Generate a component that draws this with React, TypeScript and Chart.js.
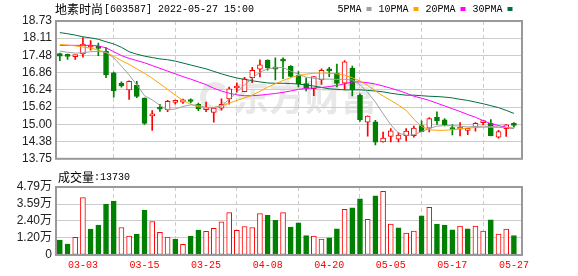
import React, { useEffect, useRef } from 'react';
import { Chart, registerables } from 'chart.js';

Chart.register(...registerables);

const stockName = '地素时尚';
const stockCode = '603587';
const stamp = '2022-05-27 15:00';
const volTitle = '成交量';
const lastVolumeText = '13730';
const watermark = '东方财富';

const dates = [
  '02-28', '03-01', '03-02', '03-03', '03-04', '03-07', '03-08', '03-09', '03-10', '03-11',
  '03-14', '03-15', '03-16', '03-17', '03-18', '03-21', '03-22', '03-23', '03-24', '03-25',
  '03-28', '03-29', '03-30', '03-31', '04-01', '04-06', '04-07', '04-08', '04-11', '04-12',
  '04-13', '04-14', '04-15', '04-18', '04-19', '04-20', '04-21', '04-22', '04-25', '04-26',
  '04-27', '04-28', '04-29', '05-05', '05-06', '05-09', '05-10', '05-11', '05-12', '05-13',
  '05-16', '05-17', '05-18', '05-19', '05-20', '05-23', '05-24', '05-25', '05-26', '05-27',
];

const opens = [
  17.55, 17.48, 17.44, 17.54, 17.79, 17.76, 17.63, 16.86, 16.49, 16.24,
  16.41, 15.94, 15.30, 15.56, 15.52, 15.79, 15.80, 15.84, 15.72, 15.53,
  15.43, 15.58, 15.91, 16.31, 16.18, 16.68, 16.99, 17.32, 17.01, 17.30,
  17.09, 16.77, 16.47, 16.28, 16.60, 16.97, 16.85, 16.48, 17.03, 16.04,
  15.07, 15.09, 14.36, 14.56, 14.46, 14.59, 14.59, 14.95, 14.86, 15.25,
  15.16, 14.83, 14.82, 14.78, 14.89, 15.06, 15.03, 14.53, 14.84, 14.99,
];
const highs = [
  17.57, 17.53, 17.50, 18.13, 18.02, 17.93, 17.77, 16.88, 16.53, 16.57,
  16.55, 15.95, 15.49, 15.72, 15.86, 15.87, 15.91, 15.92, 15.76, 15.80,
  15.60, 15.92, 16.34, 16.50, 16.69, 17.06, 17.33, 17.33, 17.40, 17.40,
  17.12, 16.90, 16.67, 16.72, 17.00, 17.06, 17.17, 17.30, 17.10, 16.10,
  15.30, 15.14, 14.72, 14.84, 14.70, 14.84, 14.93, 15.12, 15.24, 15.45,
  15.20, 14.99, 15.06, 14.82, 15.06, 15.13, 15.17, 14.78, 14.99, 15.06,
];
const lows = [
  17.30, 17.34, 17.34, 17.42, 17.68, 17.48, 16.68, 15.98, 16.34, 15.90,
  15.96, 14.99, 14.78, 15.46, 15.45, 15.72, 15.75, 15.77, 15.49, 15.45,
  15.07, 15.51, 15.72, 16.16, 16.18, 16.50, 16.71, 16.95, 16.60, 16.65,
  16.70, 16.35, 16.20, 16.03, 16.44, 16.72, 16.35, 16.25, 16.02, 15.10,
  14.57, 14.25, 14.35, 14.36, 14.36, 14.40, 14.53, 14.72, 14.72, 14.99,
  14.94, 14.61, 14.58, 14.62, 14.75, 14.98, 14.58, 14.50, 14.56, 14.89,
];
const closes = [
  17.46, 17.45, 17.47, 17.90, 17.81, 17.74, 16.78, 16.20, 16.38, 16.55,
  16.00, 15.03, 15.33, 15.54, 15.83, 15.80, 15.88, 15.82, 15.55, 15.57,
  15.58, 15.72, 16.28, 16.33, 16.64, 16.95, 17.15, 17.03, 16.99, 17.28,
  16.73, 16.46, 16.29, 16.72, 16.95, 16.93, 16.47, 17.25, 16.25, 15.16,
  15.29, 14.35, 14.50, 14.76, 14.61, 14.75, 14.86, 14.73, 15.20, 15.12,
  14.98, 14.81, 14.86, 14.81, 15.03, 15.08, 14.59, 14.73, 14.98, 14.96,
];
// volume in 万股
const volumes = [
  1.05, 0.77, 1.24, 4.04, 1.82, 2.10, 3.57, 3.79, 1.94, 1.33,
  1.47, 3.15, 2.36, 1.59, 1.26, 1.12, 0.75, 1.33, 1.75, 1.66,
  1.87, 2.34, 2.99, 1.73, 2.01, 1.94, 2.92, 2.80, 2.45, 2.99,
  1.96, 2.27, 1.36, 1.33, 1.12, 1.21, 1.85, 3.22, 3.32, 3.95,
  2.52, 4.16, 4.49, 2.17, 1.92, 1.54, 1.68, 2.76, 3.36, 2.17,
  2.10, 1.78, 2.03, 1.85, 2.03, 1.68, 2.48, 1.47, 1.82, 1.373,
];

const ma5 = [
  17.64, 17.60, 17.57, 17.58, 17.62, 17.63, 17.60, 17.40, 17.10, 16.78,
  16.42, 16.03, 15.88, 15.68, 15.52, 15.55, 15.64, 15.70, 15.68, 15.60,
  15.60, 15.66, 15.90, 16.15, 16.42, 16.66, 16.88, 17.00, 17.04, 17.05,
  16.92, 16.80, 16.70, 16.66, 16.63, 16.63, 16.62, 16.62, 16.60, 16.43,
  16.15, 15.80, 15.38, 14.98, 14.68, 14.60, 14.62, 14.73, 14.85, 14.93,
  14.95, 14.95, 14.93, 14.90, 14.92, 14.93, 14.92, 14.90, 14.88, 14.84,
];
const ma10 = [
  17.88, 17.86, 17.83, 17.79, 17.75, 17.68, 17.59, 17.45, 17.30, 17.16,
  17.00, 16.84, 16.66, 16.46, 16.26, 16.05, 15.86, 15.72, 15.63, 15.60,
  15.60, 15.66, 15.76, 15.86, 15.95, 16.05, 16.19, 16.34, 16.46, 16.58,
  16.68, 16.76, 16.81, 16.84, 16.85, 16.84, 16.82, 16.77, 16.68, 16.56,
  16.40, 16.20, 16.02, 15.86, 15.69, 15.50, 15.18, 14.92, 14.80, 14.78,
  14.78, 14.80, 14.83, 14.86, 14.88, 14.89, 14.89, 14.88, 14.88, 14.87,
];
const ma20 = [
  17.85, 17.85, 17.85, 17.85, 17.85, 17.83, 17.76, 17.62, 17.48, 17.38,
  17.30, 17.22, 17.12, 17.02, 16.92, 16.82, 16.72, 16.63, 16.53, 16.43,
  16.30, 16.20, 16.12, 16.06, 16.03, 16.03, 16.05, 16.08, 16.11, 16.15,
  16.20, 16.26, 16.29, 16.31, 16.33, 16.36, 16.40, 16.46, 16.53, 16.53,
  16.50, 16.45, 16.38, 16.30, 16.22, 16.12, 16.01, 15.94, 15.86, 15.76,
  15.66, 15.56, 15.46, 15.35, 15.25, 15.13, 15.02, 14.95, 14.89, 14.84,
];
const ma30 = [
  18.31, 18.27, 18.22, 18.16, 18.12, 18.07, 17.98, 17.90, 17.78, 17.62,
  17.53, 17.46, 17.41, 17.36, 17.33, 17.28, 17.21, 17.14, 17.07, 17.00,
  16.91, 16.82, 16.74, 16.67, 16.62, 16.57, 16.53, 16.49, 16.48, 16.48,
  16.47, 16.45, 16.42, 16.38, 16.33, 16.28, 16.26, 16.24, 16.24, 16.24,
  16.22, 16.20, 16.17, 16.12, 16.08, 16.05, 16.05, 16.03, 16.01, 16.00,
  15.98, 15.95, 15.90, 15.86, 15.80, 15.74, 15.67, 15.60, 15.50, 15.39,
];

const maNames = ['5PMA', '10PMA', '20PMA', '30PMA'];
const maColors = ['#a0a0a0', '#ffa500', '#ff00ff', '#00703c'];

const priceTicks = [13.75, 14.38, 15.0, 15.62, 16.24, 16.86, 17.48, 18.11, 18.73];
const volTicks = [0, 1.2, 2.4, 3.59, 4.79];
const volTickLabels = ['0', '1.20万', '2.40万', '3.59万', '4.79万'];
const xTickLabels = ['03-03', '03-15', '03-25', '04-08', '04-20', '05-05', '05-17', '05-27'];

const RED = '#ff0000';
const GREEN = '#008000';
const GRID = '#cccccc';
const FRAME = '#999999';
const AXIS_FONT = '"Liberation Sans", "Noto Sans CJK SC", sans-serif';
const CJK_FONT = '"Noto Sans CJK SC", sans-serif';
const MONO_FONT = '"Liberation Mono", monospace';

const X_MIN = -0.5;
const X_MAX = 60.05;

const xTickValues = xTickLabels.map((l) => dates.indexOf(l));

const framePlugin = {
  id: 'frame',
  afterDatasetsDraw(chart: any) {
    const { ctx, chartArea: a } = chart;
    ctx.save();
    ctx.strokeStyle = FRAME;
    ctx.lineWidth = 2;
    ctx.strokeRect(a.left, a.top, a.right - a.left, a.bottom - a.top);
    ctx.restore();
  },
};

const pricePlugin = {
  id: 'priceDecor',
  beforeDraw(chart: any) {
    const { ctx } = chart;
    ctx.save();
    ctx.fillStyle = '#e8e8e8';
    ctx.strokeStyle = '#e8e8e8';
    ctx.lineWidth = 6;
    ctx.beginPath();
    ctx.arc(215, 97, 12, Math.PI * 0.15, Math.PI * 1.75);
    ctx.stroke();
    ctx.font = `bold 36px ${CJK_FONT}`;
    ctx.textBaseline = 'middle';
    ctx.fillText(watermark, 233, 97, 146);
    ctx.restore();
  },
  afterDraw(chart: any) {
    const { ctx } = chart;
    ctx.save();
    ctx.fillStyle = '#000';
    ctx.textBaseline = 'middle';
    ctx.font = `12px ${CJK_FONT}`;
    ctx.fillText(stockName, 55, 9, 48);
    ctx.font = `11px ${MONO_FONT}`;
    const rest = `[${stockCode}] ${stamp}`;
    ctx.fillText(rest, 104, 9, rest.length * 6);
    let x = 337.5;
    maNames.forEach((name, i) => {
      ctx.fillStyle = '#000';
      ctx.font = `11px ${MONO_FONT}`;
      const w = name.length * 6;
      ctx.fillText(name, x, 9, w);
      x += w + 5;
      ctx.fillStyle = maColors[i];
      ctx.fillRect(x, 7, 5, 4);
      x += 12;
    });
    ctx.restore();
  },
};

const volPlugin = {
  id: 'volDecor',
  afterDraw(chart: any) {
    const { ctx } = chart;
    ctx.save();
    ctx.fillStyle = '#000';
    ctx.textBaseline = 'middle';
    ctx.font = `12px ${CJK_FONT}`;
    ctx.fillText(volTitle, 58, 7, 36);
    ctx.font = `11px ${MONO_FONT}`;
    const t = ':' + lastVolumeText;
    ctx.fillText(t, 94, 7, t.length * 6);
    ctx.restore();
  },
};

export default function App() {
  const priceRef = useRef<HTMLCanvasElement>(null);
  const volRef = useRef<HTMLCanvasElement>(null);

  useEffect(() => {
    const isUp = (i: number) => closes[i] >= opens[i];
    const volUp = (i: number) => (i === 0 ? isUp(0) : closes[i] >= closes[i - 1]);

    const xScaleCommon = {
      type: 'linear' as const,
      min: X_MIN,
      max: X_MAX,
      offset: false,
      afterBuildTicks: (scale: any) => {
        scale.ticks = xTickValues.map((v) => ({ value: v }));
      },
      grid: { color: GRID, lineWidth: 1, drawTicks: false },
      border: { display: false, dash: [4, 3] },
    };

    const priceChart = new Chart(priceRef.current!, {
      type: 'bar',
      data: {
        datasets: [
          ...[ma5, ma10, ma20, ma30].map((arr, k) => ({
            type: 'line' as const,
            data: arr.map((v, i) => ({ x: i, y: v })),
            borderColor: maColors[k],
            borderWidth: 1,
            pointRadius: 0,
            fill: false,
            tension: 0,
            order: 1,
          })),
          {
            type: 'bar' as const,
            data: dates.map((_, i) => ({ x: i, y: [opens[i], closes[i]] })),
            backgroundColor: dates.map((_, i) => (isUp(i) ? '#ffffff' : GREEN)),
            borderColor: dates.map((_, i) => (isUp(i) ? RED : GREEN)),
            borderWidth: 1,
            borderSkipped: false,
            barThickness: 5,
            minBarLength: 2,
            grouped: false,
            order: 2,
          },
          {
            type: 'bar' as const,
            data: dates.map((_, i) => ({ x: i, y: [lows[i], highs[i]] })),
            backgroundColor: dates.map((_, i) => (isUp(i) ? RED : GREEN)),
            borderWidth: 0,
            barThickness: 1,
            grouped: false,
            order: 3,
          },
        ] as any,
      },
      options: {
        animation: false,
        responsive: false,
        layout: { padding: { top: 21, right: 56, bottom: 4, left: 0 } },
        plugins: { legend: { display: false }, tooltip: { enabled: false } },
        scales: {
          x: {
            ...xScaleCommon,
            ticks: { display: false },
            afterFit: (scale: any) => {
              scale.height = 0;
            },
          },
          y: {
            type: 'linear',
            min: 13.75,
            max: 18.73,
            afterBuildTicks: (scale: any) => {
              scale.ticks = priceTicks.map((v) => ({ value: v }));
            },
            afterFit: (scale: any) => {
              scale.width = 56;
            },
            ticks: {
              autoSkip: false,
              callback: (v: any) => Number(v).toFixed(2),
              color: '#222',
              font: { size: 12, family: AXIS_FONT },
              padding: 4,
            },
            grid: { color: GRID, lineWidth: 1, drawTicks: false },
            border: { display: false },
          },
        },
      } as any,
      plugins: [pricePlugin, framePlugin],
    });

    const volChart = new Chart(volRef.current!, {
      type: 'bar',
      data: {
        datasets: [
          {
            data: volumes.map((v, i) => ({ x: i, y: v })),
            backgroundColor: volumes.map((_, i) => (volUp(i) ? '#ffffff' : GREEN)),
            borderColor: volumes.map((_, i) => (volUp(i) ? RED : GREEN)),
            borderWidth: 1,
            borderSkipped: false,
            barThickness: 5,
            grouped: false,
          },
        ] as any,
      },
      options: {
        animation: false,
        responsive: false,
        layout: { padding: { top: 17, right: 56, bottom: 5, left: 0 } },
        plugins: { legend: { display: false }, tooltip: { enabled: false } },
        scales: {
          x: {
            ...xScaleCommon,
            ticks: {
              autoSkip: false,
              maxRotation: 0,
              padding: 4,
              color: RED,
              font: { size: 10, family: MONO_FONT },
              callback: (v: any) => dates[Number(v)] ?? '',
            },
            afterFit: (scale: any) => {
              scale.height = 16;
            },
          },
          y: {
            type: 'linear',
            min: 0,
            max: 4.79,
            afterBuildTicks: (scale: any) => {
              scale.ticks = volTicks.map((v) => ({ value: v }));
            },
            afterFit: (scale: any) => {
              scale.width = 56;
            },
            ticks: {
              autoSkip: false,
              callback: (v: any) => volTickLabels[volTicks.indexOf(Number(v))] ?? '',
              color: '#222',
              font: { size: 12, family: AXIS_FONT },
              padding: 4,
            },
            grid: { color: GRID, lineWidth: 1, drawTicks: false },
            border: { display: false },
          },
        },
      } as any,
      plugins: [volPlugin, framePlugin],
    });

    return () => {
      priceChart.destroy();
      volChart.destroy();
    };
  }, []);

  return (
    <div style={{ position: 'absolute', left: 0, top: 0, width: 578, height: 276, background: '#fff' }}>
      <canvas ref={priceRef} width={578} height={170} style={{ position: 'absolute', left: 0, top: 0, display: 'block' }} />
      <canvas ref={volRef} width={578} height={106} style={{ position: 'absolute', left: 0, top: 170, display: 'block' }} />
    </div>
  );
}
